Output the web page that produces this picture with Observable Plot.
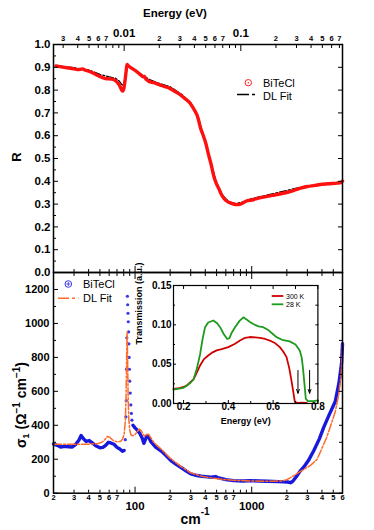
<!DOCTYPE html>
<html><head><meta charset="utf-8">
<script src="https://cdn.jsdelivr.net/npm/d3@7"></script>
<script src="https://cdn.jsdelivr.net/npm/@observablehq/plot@0.6"></script>
<style>
body{margin:0;background:#fff;}
#wrap{position:relative;width:374px;height:530px;overflow:hidden;background:#fff;}
#wrap svg{position:absolute;overflow:visible;}
</style></head><body><div id="wrap"></div>
<script>
const FONT = '"Liberation Sans", Arial, Helvetica, sans-serif';
const CM_PER_EV = 8065.54;

// ---- Top panel: reflectance R vs wavenumber (cm^-1)
const rWave = [21,24,27,30,32,34,35.5,37,40,44,48,52,56,60,64,68,72,75,77,78.5,80,82,84,85.5,87,90,94,100,106,112,117,120,124,130,137,150,165,180,195,215,240,265,290,315,340,366,385,405,425,447,476,500,525,560,598,661,730,800,860,920,1000,1190,1500,2030,2300,2630,3000,3500,3860,4500,5400,5800,6000];
const rData = [.906,.901,.897,.893,.890,.891,.893,.888,.883,.874,.864,.856,.851,.849,.848,.842,.828,.812,.800,.796,.805,.840,.885,.912,.908,.902,.895,.887,.876,.866,.858,.860,.848,.840,.835,.830,.822,.815,.810,.797,.782,.765,.748,.722,.690,.630,.600,.565,.520,.478,.418,.388,.365,.335,.317,.304,.298,.300,.308,.315,.318,.328,.338,.352,.360,.370,.377,.382,.386,.389,.392,.394,.401];
const rFitWave = [21,30,40,50,60,68,73,77,79,81,83,85,87,92,100,110,120,135,160,200,250,300,340,380,420,460,500,560,640,730,850,1000,1500,2000,2600,3500,4500,6000];
const rFit = [.907,.898,.889,.869,.858,.852,.840,.824,.822,.840,.875,.902,.906,.901,.890,.874,.860,.845,.830,.815,.782,.744,.697,.617,.532,.457,.395,.340,.310,.302,.310,.324,.345,.360,.374,.385,.391,.397];

// ---- Bottom panel: optical conductivity sigma_1 (Ohm^-1 cm^-1)
const sWave = [20,21.5,23,25,27,29,31,33,34.5,36,38,40.5,43,46,50,53,56,59,62,66,70,74,78,80.5,82.5,83.5,84,84.5,85,86,86.5,87,87.5,88,88.5,89,89.5,90,91,92,93,94,96,100,105,110,115,119,123,127,131,136,142,150,160,170,185,203,225,250,275,300,340,370,420,446,490,510,600,700,850,980,1150,1360,1700,2030,2150,2250,2400,2600,2800,3060,3400,3800,4140,4600,5200,5600,5900,6000];
const sData = [290,282,272,276,274,272,288,312,340,322,305,310,296,280,268,270,282,300,296,288,270,260,247,252,315,450,545,730,915,1160,1110,1060,1010,950,880,800,730,660,590,520,470,430,400,385,370,352,325,294,318,340,330,305,290,272,258,245,220,192,170,150,130,114,104,100,96,94,98,92,80,74,72,74,72,70,68,66,62,70,95,130,155,192,250,320,388,460,540,650,770,880];
const sFitWave = [20,30,40,48,52,55,58,61,65,70,75,78,80.5,82.5,83.7,84.7,85.5,86.3,87.3,88.5,90,92,95,100,105,109,113,117,121,126,131,137,145,155,170,200,250,300,370,450,550,700,1000,1400,1800,2000,2150,2300,2500,2800,3200,3640,4000,4400,4700,5200,5580,5850,6000];
const sFit = [288,288,289,292,300,315,335,328,310,303,305,318,345,420,560,800,950,800,560,430,375,345,338,345,365,378,368,348,336,345,347,325,300,280,255,205,155,120,100,90,82,76,72,70,72,80,92,104,120,140,165,200,265,330,388,480,583,700,880];

// ---- Inset: transmission vs energy (eV)
const tEnergy300 = [0.155,0.18,0.2,0.215,0.23,0.245,0.26,0.275,0.29,0.31,0.33,0.348,0.37,0.4,0.43,0.452,0.475,0.496,0.52,0.541,0.565,0.585,0.61,0.63,0.645,0.66,0.672,0.682,0.69,0.697,0.71,0.73,0.75];
const t300 = [.0185,.0195,.021,.023,.027,.031,.040,.049,.056,.061,.065,.0675,.069,.0716,.076,.080,.0835,.0845,.084,.0835,.082,.080,.0765,.0716,.066,.0589,.045,.029,.015,.002,.0006,.001,.0006];
const tEnergy28 = [0.155,0.18,0.2,0.215,0.23,0.245,0.26,0.274,0.285,0.296,0.31,0.333,0.35,0.363,0.38,0.395,0.405,0.415,0.43,0.45,0.467,0.48,0.495,0.511,0.535,0.556,0.58,0.6,0.615,0.64,0.674,0.7,0.719,0.728,0.733,0.74,0.746,0.755,0.78,0.8];
const t28 = [.0175,.019,.020,.0229,.026,.031,.045,.063,.082,.097,.103,.1055,.102,.097,.088,.082,.083,.090,.097,.105,.1095,.107,.104,.101,.098,.097,.093,.088,.0843,.081,.079,.075,.0674,.058,.046,.025,.006,.003,.003,.004];
const arrowEnergy = [0.711, 0.763];
const arrowFrom = 0.042, arrowTo = 0.013;

// ---- Tick values / labels
const cmTicks = [20,30,40,50,60,70,80,90,200,300,400,500,600,700,800,900,2000,3000,4000,5000,6000];
const cmLabels = ["2","3","4","5","6","7","","","2","3","4","5","6","7","","","2","3","4","5","6"];
const cmDecades = [100, 1000];
const cmDecadeLabels = ["100", "1000"];
const evTicks = [0.003,0.004,0.005,0.006,0.007,0.008,0.009,0.02,0.03,0.04,0.05,0.06,0.07,0.08,0.09,0.2,0.3,0.4,0.5,0.6,0.7];
const evLabels = ["3","4","5","6","7","","","2","3","4","5","6","7","","","2","3","4","5","6","7"];
const evDecades = [0.01, 0.1];
const evDecadeLabels = ["0.01", "0.1"];
const rTicks = [0,0.1,0.2,0.3,0.4,0.5,0.6,0.7,0.8,0.9,1.0];
const rMinor = [0.05,0.15,0.25,0.35,0.45,0.55,0.65,0.75,0.85,0.95];
const sTicks = [0,200,400,600,800,1000,1200];
const sMinor = [100,300,500,700,900,1100,1300];
const tTicks = [0,0.05,0.10,0.15];
const tMinor = [0.025,0.075,0.125];
const eTicks = [0.2,0.4,0.6,0.8];
const eMinor = [0.3,0.5,0.7];

const none = () => "";
const rRows = rWave.map((w,i)=>({w, r:rData[i]}));
const rFitRows = rFitWave.map((w,i)=>({w, r:rFit[i]}));
const sRows = sWave.map((w,i)=>({w, s:sData[i]}));
const sFitRows = sFitWave.map((w,i)=>({w, s:sFit[i]}));
const t300Rows = tEnergy300.map((e,i)=>({e, t:t300[i]}));
const t28Rows = tEnergy28.map((e,i)=>({e, t:t28[i]}));
const arrowRows = arrowEnergy.map(e=>({e, a:arrowFrom, b:arrowTo}));
const cmLabelRows = cmTicks.map((w,i)=>({w, label:cmLabels[i]})).filter(d=>d.label);
const cmDecadeRows = cmDecades.map((w,i)=>({w, label:cmDecadeLabels[i]}));
const evLabelRows = evTicks.map((e,i)=>({w:e*CM_PER_EV, label:evLabels[i]})).filter(d=>d.label);
const evDecadeRows = evDecades.map((e,i)=>({w:e*CM_PER_EV, label:evDecadeLabels[i]}));
const isPeak = d => d.w > 82 && d.w < 95;

const wrap = document.getElementById("wrap");
const xOpt = {type:"log", domain:[20,6000]};
const bold = {fontWeight:"bold", fontFamily:FONT};

const topPlot = Plot.plot({
  width:374, height:280, marginTop:44, marginBottom:8, marginLeft:53, marginRight:32,
  x:xOpt, y:{domain:[0,1]},
  style:{background:"transparent", fontFamily:FONT, color:"black"},
  marks:[
    Plot.line(rFitRows, {x:"w", y:"r", stroke:"black", strokeWidth:1.3, strokeDasharray:"7,2,2,2"}),
    Plot.line(rRows, {x:"w", y:"r", stroke:"#ff1010", strokeWidth:3.4, curve:"catmull-rom"}),
    Plot.axisY({ticks:rTicks, tickSize:-5, tickPadding:8, tickFormat:d3.format(".1f"), fontSize:11.5, ...bold, label:null}),
    Plot.axisY({ticks:rMinor, tickSize:-3, tickFormat:none, label:null}),
    Plot.axisY({anchor:"right", ticks:rTicks, tickSize:-5, tickFormat:none, label:null}),
    Plot.axisX({ticks:cmTicks, tickSize:-3, tickFormat:none, label:null}),
    Plot.axisX({ticks:cmDecades, tickSize:-6, tickFormat:none, label:null}),
    Plot.axisX({anchor:"top", ticks:evTicks.map(e=>e*CM_PER_EV), tickSize:-3, tickFormat:none, label:null}),
    Plot.axisX({anchor:"top", ticks:evDecades.map(e=>e*CM_PER_EV), tickSize:-6, tickFormat:none, label:null}),
    Plot.text(evLabelRows, {x:"w", text:"label", frameAnchor:"top", dy:-8.5, fontSize:7.5, ...bold}),
    Plot.text(evDecadeRows, {x:"w", text:"label", frameAnchor:"top", dy:-15.5, fontSize:11.5, ...bold}),
    Plot.frame({strokeWidth:1.5})
  ]
});

const botPlot = Plot.plot({
  width:374, height:266, marginTop:8, marginBottom:37.3, marginLeft:53, marginRight:32,
  x:xOpt, y:{domain:[0,1300]},
  style:{background:"transparent", fontFamily:FONT, color:"black"},
  marks:[
    Plot.line(sRows, {x:"w", y:d=>isPeak(d)?NaN:d.s, stroke:"#1818dc", strokeWidth:3.4}),
    Plot.dot(sRows.filter(isPeak), {x:"w", y:"s", r:1.6, fill:"#3838e6"}),
    Plot.line(sFitRows, {x:"w", y:"s", stroke:"#ff6a28", strokeWidth:1.5, strokeDasharray:"8,2,2,2"}),
    Plot.axisY({ticks:sTicks, tickSize:-5, tickPadding:9, tickFormat:d3.format("d"), fontSize:11, ...bold, label:null}),
    Plot.axisY({ticks:sMinor, tickSize:-3, tickFormat:none, label:null}),
    Plot.axisY({anchor:"right", ticks:sTicks.concat(sMinor), tickSize:-4, tickFormat:none, label:null}),
    Plot.axisX({ticks:cmTicks, tickSize:-3, tickFormat:none, label:null}),
    Plot.axisX({ticks:cmDecades, tickSize:-6, tickFormat:none, label:null}),
    Plot.axisX({anchor:"top", ticks:cmTicks, tickSize:-3, tickFormat:none, label:null}),
    Plot.axisX({anchor:"top", ticks:cmDecades, tickSize:-6, tickFormat:none, label:null}),
    Plot.text(cmLabelRows, {x:"w", text:"label", frameAnchor:"bottom", dy:7, fontSize:7.5, ...bold}),
    Plot.text(cmDecadeRows, {x:"w", text:"label", frameAnchor:"bottom", dy:16.5, fontSize:11.5, ...bold}),
    Plot.frame({strokeWidth:1.5})
  ]
});

const insetPlot = Plot.plot({
  width:190.4, height:154, marginTop:6, marginBottom:30, marginLeft:38, marginRight:8,
  x:{domain:[0.155,0.8]}, y:{domain:[0,0.15]},
  style:{background:"transparent", fontFamily:FONT, color:"black"},
  marks:[
    Plot.frame({fill:"white", stroke:null}),
    Plot.line(t300Rows, {x:"e", y:"t", stroke:"#d00000", strokeWidth:1.8}),
    Plot.line(t28Rows, {x:"e", y:"t", stroke:"#1e9a1e", strokeWidth:1.8}),
    Plot.arrow(arrowRows, {x1:"e", x2:"e", y1:"a", y2:"b", stroke:"black", strokeWidth:1, headLength:6, headAngle:40}),
    Plot.axisY({ticks:tTicks, tickSize:-3, tickFormat:none, label:null}),
    Plot.axisY({ticks:tMinor, tickSize:-2, tickFormat:none, label:null}),
    Plot.axisY({anchor:"right", ticks:tTicks.concat(tMinor), tickSize:-3, tickFormat:none, label:null}),
    Plot.axisX({ticks:eTicks, tickSize:-3, tickFormat:none, label:null}),
    Plot.axisX({ticks:eMinor, tickSize:-2, tickFormat:none, label:null}),
    Plot.axisX({anchor:"top", ticks:eTicks.concat(eMinor), tickSize:-3, tickFormat:none, label:null}),
    Plot.text(tTicks, {y:d=>d, text:d3.format(".2f"), frameAnchor:"left", textAnchor:"end", dx:-2, fontSize:10, ...bold}),
    Plot.text(eTicks, {x:d=>d, text:d3.format(".1f"), frameAnchor:"bottom", dy:7, fontSize:10, ...bold}),
    Plot.text(["Transmission (a.u.)"], {frameAnchor:"left", dx:-34, rotate:-90, fontSize:9, ...bold}),
    Plot.text(["Energy (eV)"], {frameAnchor:"bottom", dy:21, fontSize:9, ...bold}),
    Plot.frame({strokeWidth:1.2})
  ]
});

function place(svg, left, top){ svg.style.left = left+"px"; svg.style.top = top+"px"; wrap.appendChild(svg); }
place(topPlot, 0, 0);
place(botPlot, 0, 264);
place(insetPlot, 135.3, 279);

// ---- Overlay: titles and legends
const ov = d3.create("svg").attr("width",374).attr("height",530)
  .style("left","0px").style("top","0px").style("pointer-events","none")
  .attr("font-family", FONT);

ov.append("text").attr("x",175).attr("y",16.5).attr("text-anchor","middle")
  .attr("font-size",11.5).attr("font-weight","bold").text("Energy (eV)");
ov.append("text").attr("transform","translate(20.5,157) rotate(-90)").attr("text-anchor","middle")
  .attr("font-size",13).attr("font-weight","bold").text("R");

const sig = ov.append("text").attr("transform","translate(26,405) rotate(-90)").attr("text-anchor","middle")
  .attr("font-size",14).attr("font-weight","bold");
sig.append("tspan").text("σ");
sig.append("tspan").attr("dy",3).attr("font-size",9).text("1");
sig.append("tspan").attr("dy",-3).text(" (Ω");
sig.append("tspan").attr("dy",-6).attr("font-size",10).text("−1");
sig.append("tspan").attr("dy",6).text(" cm");
sig.append("tspan").attr("dy",-6).attr("font-size",10).text("−1");
sig.append("tspan").attr("dy",6).text(")");

const cm = ov.append("text").attr("x",195).attr("y",524).attr("text-anchor","middle")
  .attr("font-size",14).attr("font-weight","bold");
cm.append("tspan").text("cm");
cm.append("tspan").attr("dy",-9).attr("font-size",10).text("-1");

// top legend
ov.append("circle").attr("cx",248.3).attr("cy",82.7).attr("r",3.2).attr("fill","none").attr("stroke","#ff2020").attr("stroke-width",1);
ov.append("circle").attr("cx",248.3).attr("cy",82.7).attr("r",0.8).attr("fill","#ff2020");
ov.append("text").attr("x",263).attr("y",86.5).attr("font-size",11).text("BiTeCl");
ov.append("line").attr("x1",237).attr("x2",258).attr("y1",94.5).attr("y2",94.5).attr("stroke","black").attr("stroke-width",1.3).attr("stroke-dasharray","12,3,3,3");
ov.append("text").attr("x",263).attr("y",99.5).attr("font-size",11).text("DL Fit");

// bottom legend
ov.append("circle").attr("cx",68.3).attr("cy",284).attr("r",3.3).attr("fill","none").attr("stroke","#3838e6").attr("stroke-width",1);
ov.append("path").attr("d","M66.3,284H70.3M68.3,282V286").attr("stroke","#3838e6").attr("stroke-width",0.9);
ov.append("text").attr("x",83).attr("y",288).attr("font-size",11).text("BiTeCl");
ov.append("line").attr("x1",58).attr("x2",78.5).attr("y1",298.3).attr("y2",298.3).attr("stroke","#ff6a28").attr("stroke-width",1.5).attr("stroke-dasharray","11,3,3,3");
ov.append("text").attr("x",83).attr("y",302).attr("font-size",11).text("DL Fit");

// inset legend
ov.append("line").attr("x1",271.7).attr("x2",283.3).attr("y1",296).attr("y2",296).attr("stroke","#d00000").attr("stroke-width",1.8);
ov.append("text").attr("x",286).attr("y",298.6).attr("font-size",7).text("300 K");
ov.append("line").attr("x1",271.7).attr("x2",283.3).attr("y1",304.3).attr("y2",304.3).attr("stroke","#1e9a1e").attr("stroke-width",1.8);
ov.append("text").attr("x",286).attr("y",306.9).attr("font-size",7).text("28 K");

wrap.appendChild(ov.node());
</script></body></html>
